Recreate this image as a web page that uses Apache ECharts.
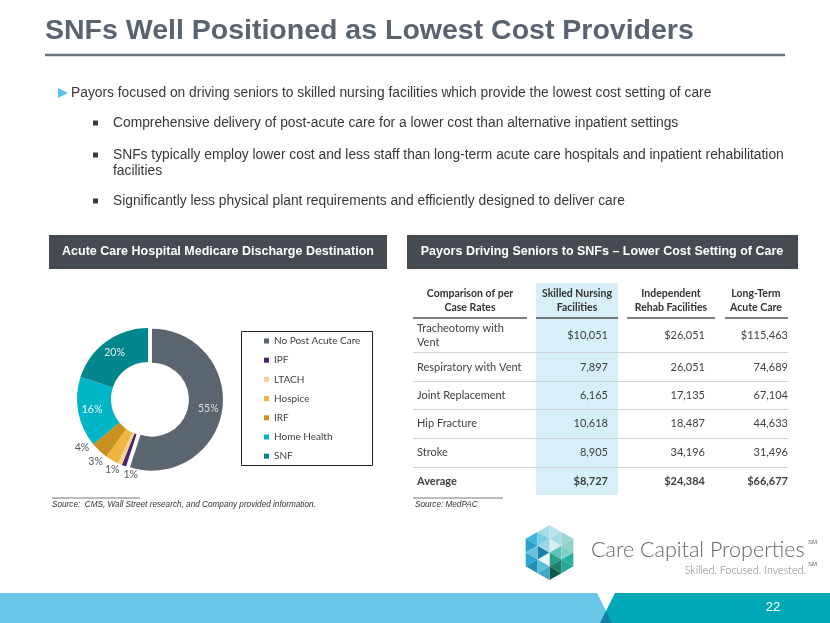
<!DOCTYPE html>
<html><head><meta charset="utf-8">
<script src="https://cdn.jsdelivr.net/npm/echarts@6/dist/echarts.min.js"></script>
<style>html,body{margin:0;padding:0;background:#fff}#c{width:830px;height:623px}</style>
</head><body><div id="c"></div>
<script>
// ---------- data ----------
const pieCategories = ['No Post Acute Care', 'IPF', 'LTACH', 'Hospice', 'IRF', 'Home Health', 'SNF'];
const pieValues = [55, 1, 1, 3, 4, 16, 20];
const pieColors = ['#5b6570', '#4a2371', '#f5d28e', '#eeb540', '#c8901e', '#00b5c6', '#00868c'];

const tableHeaders = ['Comparison of per\nCase Rates', 'Skilled Nursing\nFacilities', 'Independent\nRehab Facilities', 'Long-Term\nAcute Care'];
const tableRows = ['Tracheotomy with\nVent', 'Respiratory with Vent', 'Joint Replacement', 'Hip Fracture', 'Stroke', 'Average'];
const snfRates = [10051, 7897, 6165, 10618, 8905, 8727];
const irfRates = [26051, 26051, 17135, 18487, 34196, 24384];
const ltachRates = [115463, 74689, 67104, 44633, 31496, 66677];

const titleText = 'SNFs Well Positioned as Lowest Cost Providers';
const mainBullet = 'Payors focused on driving seniors to skilled nursing facilities which provide the lowest cost setting of care';
const subBullets = [
  'Comprehensive delivery of post-acute care for a lower cost than alternative inpatient settings',
  'SNFs typically employ lower cost and less staff than long-term acute care hospitals and inpatient rehabilitation\nfacilities',
  'Significantly less physical plant requirements and efficiently designed to deliver care'
];
const leftHeader = 'Acute Care Hospital Medicare Discharge Destination';
const rightHeader = 'Payors Driving Seniors to SNFs \u2013 Lower Cost Setting of Care';
const leftSource = 'Source:  CMS, Wall Street research, and Company provided information.';
const rightSource = 'Source: MedPAC';
const pageNumber = '22';

// ---------- layout helpers ----------
const g = [];
const SANS = '"Liberation Sans", Arial, sans-serif';
const CAL = 'Lato, "Open Sans", sans-serif';
function txt(x, y, text, font, fill, align, extra) {
  g.push({type: 'text', x: x, y: y, silent: true,
    style: Object.assign({text: text, font: font, fill: fill, align: align || 'left', verticalAlign: 'middle'}, extra || {})});
}
function rect(x, y, w, h, style) { g.push({type: 'rect', silent: true, shape: {x: x, y: y, width: w, height: h}, style: style}); }
function line(x1, y1, x2, y2, stroke, lw) { g.push({type: 'line', silent: true, shape: {x1: x1, y1: y1, x2: x2, y2: y2}, style: {stroke: stroke, lineWidth: lw}}); }
function poly(pts, fill) { g.push({type: 'polygon', silent: true, shape: {points: pts}, style: {fill: fill}}); }

// title
txt(45, 31, titleText, 'bold 28.5px ' + SANS, '#5a6470');
line(45, 55, 785, 55, '#6b737c', 2.5);

// bullets
poly([[58, 88], [68, 93], [58, 98]], '#5bc0eb');
txt(71, 93, mainBullet, '13.8px ' + SANS, '#383838');
const subY = [123, 155, 201];
subBullets.forEach(function (s, i) {
  rect(93, subY[i] - 2.5, 5, 5, {fill: '#3a3a3a'});
  txt(113, subY[i] - 8, s, '13.8px ' + SANS, '#383838', 'left', {verticalAlign: 'top', lineHeight: 16});
});

// section headers
rect(49, 235, 338, 34, {fill: '#464b51'});
txt(218, 252, leftHeader, 'bold 12.5px ' + SANS, '#ffffff', 'center');
rect(407, 235, 391, 34, {fill: '#464b51'});
txt(602, 252, rightHeader, 'bold 12.5px ' + SANS, '#ffffff', 'center');

// legend box
rect(241.5, 331.5, 131, 134, {fill: 'none', stroke: '#222', lineWidth: 1});

// sources
line(52, 498, 140, 498, '#777', 1);
txt(52, 505, leftSource, 'italic 8.2px ' + SANS, '#333');
line(413, 498, 503, 498, '#777', 1);
txt(415, 505, rightSource, 'italic 8.2px ' + SANS, '#333');

// ---------- table ----------
const colRight = [null, 608, 705, 788];
const colCenter = [470, 577, 671, 756];
const colSpan = [[413, 527], [536, 618], [627, 715], [725, 788]];
const rowY = [335, 367, 395, 423, 452, 481];
const sepY = [352, 381, 409, 438, 467];
rect(536, 283, 82, 212, {fill: '#d6eff9'});
tableHeaders.forEach(function (h, i) {
  txt(colCenter[i], 301, h, 'bold 10.5px ' + CAL, '#333', 'center', {lineHeight: 14});
  line(colSpan[i][0], 318, colSpan[i][1], 318, '#555', 1.5);
});
sepY.forEach(function (y) { line(413, y + 0.5, 788, y + 0.5, '#cfd3d6', 1); });
function fmt(v, i) { const s = v.toLocaleString('en-US'); return (i === 0 || i === tableRows.length - 1) ? '$' + s : s; }
tableRows.forEach(function (r, i) {
  const bold = i === tableRows.length - 1;
  const f = (bold ? 'bold ' : '') + '11px ' + CAL;
  txt(417, rowY[i], r, f, '#404040', 'left', {lineHeight: 14});
  [snfRates, irfRates, ltachRates].forEach(function (arr, c) {
    txt(colRight[c + 1], rowY[i], fmt(arr[i], i), f, '#404040', 'right');
  });
});

// ---------- logo ----------
(function () {
  const cx = 549.5, cy = 552.5, R = 27.5;
  const V = [];
  for (let k = 0; k < 6; k++) { const a = (-90 + 60 * k) * Math.PI / 180; V.push([cx + R * Math.cos(a), cy + R * Math.sin(a)]); }
  const C = [cx, cy];
  const mid = function (a, b) { return [(a[0] + b[0]) / 2, (a[1] + b[1]) / 2]; };
  const cols = [
    ['#d9eef4', '#bfe3ee', '#9fd3d3', '#a9dbe9'],
    ['#5cc4b9', '#8fd0cc', '#27b0a0', '#7fd1c4'],
    ['#2a9f88', '#27a893', '#0e5a4a', '#1f7d68'],
    ['#eaf4f7', '#3fa7c8', '#1f8cb3', '#5bbbd8'],
    ['#1b7fa6', '#2aa5d8', '#2aa0cc', '#69c0e2'],
    ['#9ad6ea', '#3bb3dd', '#a6dcec', '#7fcbe6']
  ];
  for (let k = 0; k < 6; k++) {
    const A = V[k], B = V[(k + 1) % 6];
    const mCA = mid(C, A), mCB = mid(C, B), mAB = mid(A, B);
    poly([C, mCA, mCB], cols[k][0]);
    poly([mCA, A, mAB], cols[k][1]);
    poly([mCB, mAB, B], cols[k][2]);
    poly([mCA, mAB, mCB], cols[k][3]);
  }
})();
txt(591, 550, 'Care Capital Properties', '300 21.5px ' + CAL, '#5d6670');
txt(808, 542, 'SM', '6px ' + SANS, '#5d6670');
txt(806, 571, 'Skilled. Focused. Invested.', '300 10.8px ' + CAL, '#767c83', 'right');
txt(808, 564, 'SM', '6px ' + SANS, '#5d6670');

// ---------- footer ----------
poly([[0, 593], [597, 593], [612, 623], [0, 623]], '#69c7e8');
poly([[615, 593], [830, 593], [830, 623], [600, 623]], '#00a9b7');
poly([[606, 611], [612, 623], [600, 623]], '#137fa3');
txt(773, 607, pageNumber, '13px ' + SANS, '#ffffff', 'center');

// ---------- pie ----------
const outsideCfg = {
  IPF: {length: 9, length2: -22},
  LTACH: {length: 6, length2: -7},
  Hospice: {length: 2, length2: 3},
  IRF: {length: -4, length2: 8}
};
const insideColor = {'No Post Acute Care': '#dcdfe2', 'Home Health': '#f2fbfc', 'SNF': '#e8f4f4'};
const pieData = pieCategories.map(function (name, i) {
  const d = {name: name, value: pieValues[i], itemStyle: {color: pieColors[i]}};
  if (i === 0) d.selected = true;
  if (outsideCfg[name]) {
    d.label = {position: 'outside', color: '#595959'};
    d.labelLine = {show: false, length: outsideCfg[name].length, length2: outsideCfg[name].length2};
  } else {
    d.label = {position: 'inside', color: insideColor[name]};
  }
  return d;
});

const option = {
  animation: false,
  backgroundColor: '#ffffff',
  legend: {
    orient: 'vertical', left: 264, top: 334, padding: 0,
    itemWidth: 5, itemHeight: 5, itemGap: 5.2, icon: 'rect',
    selectedMode: false,
    textStyle: {fontFamily: CAL, fontSize: 10, color: '#404040', lineHeight: 14},
    data: pieCategories
  },
  series: [{
    type: 'pie',
    center: [148, 399],
    radius: [37, 71],
    startAngle: 90,
    clockwise: true,
    selectedMode: 'single',
    selectedOffset: 4,
    avoidLabelOverlap: false,
    emphasis: {disabled: true},
    label: {formatter: '{c}%', fontFamily: CAL, fontSize: 10.5},
    data: pieData
  }],
  graphic: g
};
const chart = echarts.init(document.getElementById('c'));
chart.setOption(option);
</script>
</body></html>
